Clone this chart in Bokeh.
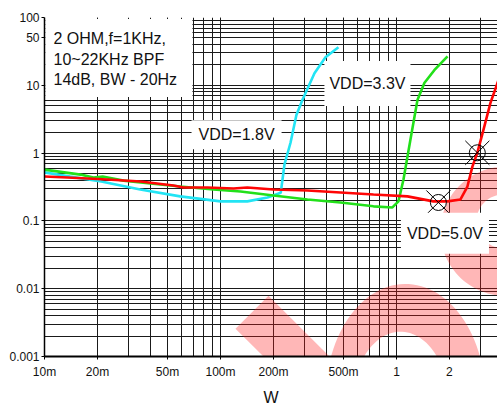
import numpy as np
from bokeh.plotting import figure
from bokeh.models import FixedTicker, Label, Range1d, LinearScale
from bokeh.embed import file_html
from bokeh.resources import INLINE

# ---- data ----
cyan_w = [0.01, 0.014, 0.021, 0.035, 0.059, 0.1, 0.142, 0.185, 0.22, 0.231, 0.25, 0.27, 0.292, 0.342, 0.395, 0.468]
cyan_pct = [0.52, 0.45, 0.38, 0.29, 0.23, 0.194, 0.194, 0.222, 0.26, 0.68, 1.42, 3.66, 6.07, 15.1, 25.9, 36.3]

green_w = [0.01, 0.016, 0.019, 0.0214, 0.0281, 0.04, 0.0592, 0.0912, 0.13, 0.2, 0.312, 0.481, 0.74, 0.948,
           1.026, 1.096, 1.2, 1.316, 1.44, 1.64, 1.95]
green_pct = [0.571, 0.482, 0.435, 0.451, 0.393, 0.356, 0.321, 0.29, 0.271, 0.237, 0.207, 0.187, 0.164, 0.158,
             0.194, 0.407, 1.57, 6.07, 10.8, 16.7, 26.8]

red_w = [0.01, 0.0135, 0.0228, 0.0351, 0.054, 0.0616, 0.0843, 0.1186, 0.142, 0.2, 0.312, 0.481, 0.74, 1.155,
         1.62, 1.95, 2.31, 2.53, 2.70, 2.88, 3.12, 3.42, 3.75, 4.1]
red_pct = [0.451, 0.436, 0.407, 0.381, 0.333, 0.311, 0.311, 0.301, 0.311, 0.29, 0.281, 0.263, 0.245, 0.23,
           0.194, 0.194, 0.207, 0.321, 0.632, 1.01, 2.2, 5.5, 10.8, 23]

marker_w = [1.73, 2.88]
marker_pct = [0.187, 1.01]

x_ticks = [0.01, 0.02, 0.05, 0.1, 0.2, 0.5, 1, 2, 4]
x_tick_labels = ["10m", "20m", "50m", "100m", "200m", "500m", "1", "2", "4"]
y_ticks = [0.001, 0.01, 0.1, 1, 10, 50, 100]
y_tick_labels = ["0.001", "0.01", "0.1", "1", "10", "50", "100"]

info_lines = ["2 OHM,f=1KHz,", "10~22KHz BPF", "14dB, BW - 20Hz"]
info_y = [49.2, 23.8, 12.1]

vdd_text = ["VDD=1.8V", "VDD=3.3V", "VDD=5.0V"]
vdd_w = [0.1234, 0.684, 1.886]
vdd_pct = [1.86, 10.6, 0.0658]
vdd_pad = [(7, 6), (5, 14), (6, 12)]

# ---- decorative watermark (frame-pixel coordinates) ----
wm_ring_a = dict(cx=505, cy=232, r_out=65, icx=503, icy=222, r_in=27)
wm_ring_b = dict(cx=405, cy=400, rx_out=80, ry_out=115, icx=400, icy=405, rx_in=48, ry_in=72)
wm_band_x = [235, 268, 395, 329]
wm_band_y = [330, 297, 424, 424]

FONT = "Liberation Sans"

p = figure(width=497, height=408, x_axis_type="log", y_axis_type="log",
           x_range=(0.01, 3.75), y_range=(0.001, 100),
           output_backend="svg", toolbar_location=None,
           min_border_left=44, min_border_right=0, min_border_top=17, min_border_bottom=50)
p.outline_line_color = None
p.background_fill_color = "white"

p.extra_x_ranges = {"px": Range1d(44, 497)}
p.extra_x_scales = {"px": LinearScale()}
p.extra_y_ranges = {"px": Range1d(358, 17)}
p.extra_y_scales = {"px": LinearScale()}

minor_x = [m * 10.0 ** e for e in range(-2, 1) for m in range(1, 10)]
minor_y = [m * 10.0 ** e for e in range(-3, 2) for m in range(1, 10)]
xt = FixedTicker(ticks=x_ticks, minor_ticks=minor_x)
yt = FixedTicker(ticks=y_ticks, minor_ticks=minor_y)
p.xaxis.ticker = xt
p.yaxis.ticker = yt
p.xgrid.ticker = xt
p.ygrid.ticker = yt

p.xaxis.major_label_overrides = {t: l for t, l in zip(x_ticks, x_tick_labels)}
p.yaxis.major_label_overrides = {t: l for t, l in zip(y_ticks, y_tick_labels)}

for g in (p.xgrid, p.ygrid):
    g.grid_line_color = "#1a1a1a"
    g.grid_line_width = 1
    g.minor_grid_line_color = "#1a1a1a"
    g.minor_grid_line_width = 1

for ax in (p.xaxis, p.yaxis):
    ax.axis_line_color = "black"
    ax.axis_line_width = 2
    ax.major_tick_in = 0
    ax.major_tick_out = 3
    ax.minor_tick_in = 0
    ax.minor_tick_out = 0
    ax.major_tick_line_color = "black"
    ax.major_label_text_font = FONT
    ax.major_label_text_font_size = "12px"
    ax.major_label_text_color = "#111111"

p.yaxis.axis_line_width = 1.5
p.yaxis.major_label_standoff = 2
p.xaxis.major_label_standoff = 5
p.xaxis.axis_label = "W"
p.xaxis.axis_label_text_font = FONT
p.xaxis.axis_label_text_font_size = "16px"
p.xaxis.axis_label_text_font_style = "normal"
p.xaxis.axis_label_text_color = "#111111"
p.xaxis.axis_label_standoff = 7

# white info box (covers grid)
p.quad(left=[0.0101], right=[0.0693], top=[95.0], bottom=[6.7], fill_color="white", line_color=None)

# watermark shapes
t = np.linspace(0, 2 * np.pi, 120)
a = wm_ring_a
ax_out = list(a["cx"] + a["r_out"] * np.cos(t)); ay_out = list(a["cy"] + a["r_out"] * np.sin(t))
ax_in = list(a["icx"] + a["r_in"] * np.cos(t)); ay_in = list(a["icy"] + a["r_in"] * np.sin(t))
b = wm_ring_b
bx_out = list(b["cx"] + b["rx_out"] * np.cos(t)); by_out = list(b["cy"] + b["ry_out"] * np.sin(t))
bx_in = list(b["icx"] + b["rx_in"] * np.cos(t)); by_in = list(b["icy"] + b["ry_in"] * np.sin(t))
p.multi_polygons(xs=[[[ax_out, ax_in]], [[bx_out, bx_in]], [[wm_band_x]]],
                 ys=[[[ay_out, ay_in]], [[by_out, by_in]], [[wm_band_y]]],
                 x_range_name="px", y_range_name="px",
                 fill_color="#FF2020", fill_alpha=0.32, line_color=None)

p.line(cyan_w, cyan_pct, line_color="#22E4F4", line_width=2.6)
p.line(green_w, green_pct, line_color="#22E01A", line_width=2.6)
p.line(red_w, red_pct, line_color="#FF0505", line_width=2.6)

p.scatter(marker_w, marker_pct, marker="circle", size=16, fill_color=None, line_color="black", line_width=1)
p.scatter(marker_w, marker_pct, marker="x", size=34, line_color="black", line_width=1)

for txt, yv in zip(info_lines, info_y):
    p.add_layout(Label(x=0.01, y=yv, x_offset=9, text=txt, text_font=FONT, text_font_size="16px",
                       text_align="left", text_baseline="middle", text_color="#111111"))

for txt, xv, yv, pad in zip(vdd_text, vdd_w, vdd_pct, vdd_pad):
    p.add_layout(Label(x=xv, y=yv, text=txt, text_font=FONT, text_font_size="16px",
                       text_align="center", text_baseline="middle", text_color="#111111",
                       background_fill_color="white", padding=pad))

p.add_layout(Label(x=0.01, y=0.29, x_offset=-29, text="%", text_font=FONT, text_font_size="16px",
                   text_align="center", text_baseline="middle", text_color="#111111"))

open("out.html", "w").write(file_html(p, INLINE))
